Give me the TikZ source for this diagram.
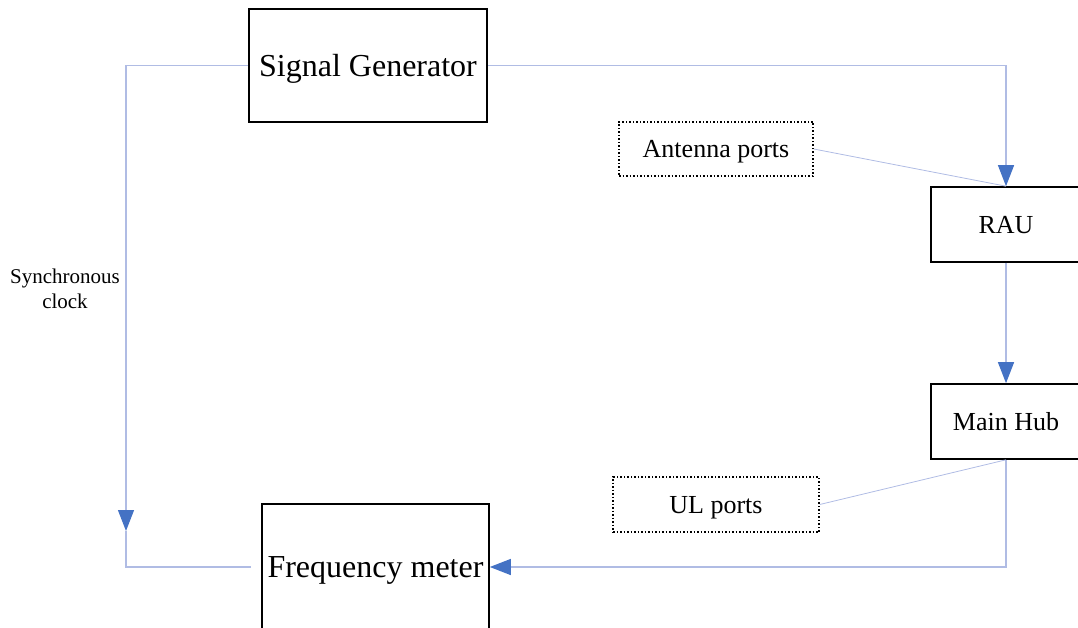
\documentclass[tikz,border=0pt]{standalone}
\usepackage{fontspec}
\setmainfont{Liberation Serif}
\usetikzlibrary{arrows.meta}

\definecolor{linkblue}{RGB}{176,188,228}
\definecolor{tipblue}{RGB}{68,114,196}

\begin{document}
\begin{tikzpicture}[
  x=1pt, y=-1pt,
  bigbox/.style={draw, line width=1.6pt, inner sep=0pt, text depth=0pt, font=\fontsize{32}{38}\selectfont},
  unitbox/.style={draw, line width=1.6pt, inner sep=0pt, text depth=0pt, minimum width=150pt, minimum height=75pt, font=\fontsize{26}{31}\selectfont},
  portbox/.style={draw, dotted, line width=1.5pt, inner sep=0pt, text depth=0pt, font=\fontsize{26}{31}\selectfont},
  link/.style={draw=linkblue, line width=1.2pt},
  arr/.style={link, -{Triangle[length=21pt, width=16pt, color=tipblue]}}
]
  \useasboundingbox (0,0) rectangle (1078,628);

  \node[bigbox, minimum width=238pt, minimum height=113pt] (siggen) at (368,65.5) {Signal Generator};
  \node[bigbox, minimum width=227pt, minimum height=126pt] (freq) at (375.5,567) {Frequency meter};
  \node[unitbox] (rau) at (1006,224.5) {RAU};
  \node[unitbox] (hub) at (1006,421.5) {Main Hub};
  \node[portbox, minimum width=194pt, minimum height=54pt] (ant) at (716,149) {Antenna ports};
  \node[portbox, minimum width=206pt, minimum height=55pt] (ulp) at (716,504.5) {UL ports};
  \node[align=center, font=\fontsize{21}{25}\selectfont] (sync) at (65,289) {Synchronous\\clock};

  \coordinate (clk) at (126,531);

  % clock loop on the left
  \draw[arr] (siggen.west) -| (clk);
  \draw[link, shorten >=10pt] (clk) |- (freq.west);

  % signal path
  \draw[arr] (siggen.east) -| (rau.north);
  \draw[arr] (rau) -- (hub);
  \draw[arr] (hub.south) |- (freq.east);

  % port callouts
  \draw[link, line width=0.8pt] (ant.east) -- (rau.north);
  \draw[link, line width=0.8pt] (ulp.east) -- (hub.south);
\end{tikzpicture}
\end{document}
